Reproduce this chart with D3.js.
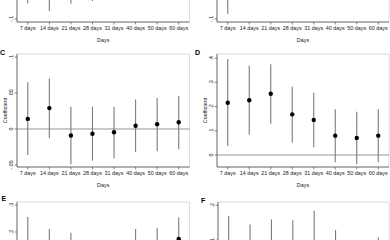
<!DOCTYPE html>
<html lang="en">
<head>
    <meta charset="UTF-8">
    <title>Coefficients by days</title>
    <script src="https://d3js.org/d3.v7.min.js"></script>
    <style>
        body{ margin: 0; background: white; }
        svg{ display: block; font-family: "Liberation Sans", Arial, sans-serif; }
        .ci{ stroke: #7a7a7a; stroke-width: 1.1px; }
        .zero{ stroke: #8a8a8a; stroke-width: 0.9px; }
        .frame{ fill: none; stroke: #d4d4d4; stroke-width: 0.8px; }
        .axisline{ stroke: #555; stroke-width: 0.8px; }
        .tick{ stroke: #555; stroke-width: 0.7px; }
        .lab{ font-size: 5.4px; fill: #222; }
        .letter{ font-size: 7px; font-weight: bold; fill: #000; }
    </style>
</head>
<body>
<svg id="canvas" width="390" height="240"></svg>
<script>
    // categories on the x axis
    let categories = ['7 days','14 days','21 days','28 days','31 days','40 days','50 days','60 days'];

    // panel A (only the lower part is visible)
    let estA = [-0.010, -0.020, -0.010, -0.015, -0.020, -0.010, -0.015, -0.010];
    let loA  = [-0.078, -0.089, -0.079, -0.075, -0.070, -0.066, -0.064, -0.060];
    let hiA  = [0.060, 0.050, 0.060, 0.045, 0.040, 0.045, 0.035, 0.040];
    let ticksA = [-0.1, -0.05, 0, 0.05];

    // panel B
    let estB = [0.12, 0.15, 0.17, 0.14, 0.13, 0.09, 0.08, 0.09];
    let loB  = [-0.079, -0.010, 0.010, -0.005, -0.015, -0.020, -0.018, -0.012];
    let hiB  = [0.32, 0.31, 0.33, 0.29, 0.27, 0.20, 0.18, 0.19];
    let ticksB = [-0.1, 0, 0.1, 0.2, 0.3];

    // panel C
    let estC = [0.014, 0.029, -0.009, -0.0065, -0.0046, 0.0046, 0.0065, 0.0093];
    let loC  = [-0.036, -0.013, -0.049, -0.044, -0.041, -0.032, -0.031, -0.028];
    let hiC  = [0.065, 0.070, 0.031, 0.031, 0.031, 0.041, 0.043, 0.046];
    let ticksC = [-0.05, 0, 0.05, 0.1];

    // panel D
    let estD = [0.216, 0.226, 0.253, 0.168, 0.145, 0.080, 0.070, 0.080];
    let loD  = [0.037, 0.084, 0.129, 0.052, 0.032, -0.030, -0.038, -0.030];
    let hiD  = [0.397, 0.369, 0.375, 0.282, 0.257, 0.189, 0.179, 0.189];
    let ticksD = [0, 0.1, 0.2, 0.3, 0.4];

    // panel E (only the upper part is visible)
    let estE = [0.09, 0.06, 0.12, 0.05, 0.06, 0.10, 0.11, 0.174];
    let loE  = [-0.07, -0.08, -0.03, -0.06, -0.05, -0.01, 0.00, 0.09];
    let hiE  = [0.256, 0.211, 0.197, 0.160, 0.165, 0.211, 0.216, 0.254];
    let ticksE = [-0.1, 0, 0.1, 0.2, 0.3];

    // panel F
    let estF = [0.03, 0.02, 0.03, 0.03, 0.05, 0.02, -0.01, 0.01];
    let loF  = [-0.09, -0.10, -0.09, -0.09, -0.08, -0.08, -0.10, -0.08];
    let hiF  = [0.169, 0.145, 0.159, 0.157, 0.184, 0.129, 0.090, 0.108];
    let ticksF = [-0.1, 0, 0.1, 0.2];
</script>
<script>
    const W = 390, H = 240;
    let svg = d3.select('#canvas');
    svg.append('rect').attr('width', W).attr('height', H).attr('fill', 'white');

    // tick label like stata: .1, -.05, 0
    function fmt(v){
        if (Math.abs(v) < 1e-9) return '0';
        let s = String(+v.toFixed(3));
        return s.replace('0.', '.');
    }
    // the figure is cropped: skip texts that fall outside the window
    function onScreen(yy){ return yy > -3 && yy < H + 3; }

    // layout of the panels (the picture is a crop of a bigger figure)
    let panels = [
        {letter:'A', est:estA, lo:loA, hi:hiA, ticks:ticksA, x0:17,  x1:189.5, top:-91, bottom:22,  dom:[-0.1042, 0.0528], lx:0,   ly:-88},
        {letter:'B', est:estB, lo:loB, hi:hiB, ticks:ticksB, x0:217, x1:389,   top:-91, bottom:22,  dom:[-0.1124, 0.3545], lx:195, ly:-88},
        {letter:'C', est:estC, lo:loC, hi:hiC, ticks:ticksC, x0:17,  x1:189.5, top:54,  bottom:167, dom:[-0.0528, 0.1042], lx:0,   ly:55},
        {letter:'D', est:estD, lo:loD, hi:hiD, ticks:ticksD, x0:217, x1:389,   top:54,  bottom:167, dom:[-0.0496, 0.4174], lx:195, ly:55},
        {letter:'E', est:estE, lo:loE, hi:hiE, ticks:ticksE, x0:17,  x1:189.5, top:202, bottom:315, dom:[-0.1074, 0.3111], lx:1.5, ly:200.5},
        {letter:'F', est:estF, lo:loF, hi:hiF, ticks:ticksF, x0:218, x1:389,   top:202, bottom:315, dom:[-0.1143, 0.2094], lx:201, ly:202.5}
    ];

    panels.forEach(function(p){
        let g = svg.append('g');
        let x = d3.scalePoint().domain(categories).range([p.x0, p.x1]).padding(0.5);
        let y = d3.scaleLinear().domain(p.dom).range([p.bottom, p.top]);

        // plot frame
        g.append('rect').attr('class', 'frame')
            .attr('x', p.x0).attr('y', p.top)
            .attr('width', p.x1 - p.x0).attr('height', p.bottom - p.top);

        // zero line
        g.append('line').attr('class', 'zero')
            .attr('x1', p.x0).attr('x2', p.x1)
            .attr('y1', y(0)).attr('y2', y(0));

        // axes lines
        g.append('line').attr('class', 'axisline')
            .attr('x1', p.x0).attr('x2', p.x0).attr('y1', p.top).attr('y2', p.bottom);
        g.append('line').attr('class', 'axisline')
            .attr('x1', p.x0).attr('x2', p.x1).attr('y1', p.bottom).attr('y2', p.bottom);

        // y ticks + rotated labels
        p.ticks.forEach(function(t){
            g.append('line').attr('class', 'tick')
                .attr('x1', p.x0 - 2.5).attr('x2', p.x0).attr('y1', y(t)).attr('y2', y(t));
            if (onScreen(y(t))){
                g.append('text').attr('class', 'lab')
                    .attr('transform', 'translate(' + (p.x0 - 4.5) + ',' + y(t) + ') rotate(-90)')
                    .attr('text-anchor', 'middle')
                    .text(fmt(t));
            }
        });

        // x ticks + labels
        categories.forEach(function(c){
            g.append('line').attr('class', 'tick')
                .attr('x1', x(c)).attr('x2', x(c)).attr('y1', p.bottom).attr('y2', p.bottom + 2.5);
            if (onScreen(p.bottom + 6)){
                g.append('text').attr('class', 'lab')
                    .attr('x', x(c)).attr('y', p.bottom + 8.3)
                    .attr('text-anchor', 'middle')
                    .text(c);
            }
        });

        // axis titles
        if (onScreen(p.bottom + 17)){
            g.append('text').attr('class', 'lab')
                .attr('x', (p.x0 + p.x1) / 2).attr('y', p.bottom + 19.5)
                .attr('text-anchor', 'middle').text('Days');
        }
        let mid = (p.top + p.bottom) / 2;
        if (mid - 15 > 0 && mid + 15 < H){
            g.append('text').attr('class', 'lab')
                .attr('transform', 'translate(' + (p.x0 - 10) + ',' + mid + ') rotate(-90)')
                .attr('text-anchor', 'middle').text('Coefficient');
        }

        // confidence intervals
        g.selectAll('line.ci').data(categories).enter().append('line')
            .attr('class', 'ci')
            .attr('x1', function(d){ return x(d); }).attr('x2', function(d){ return x(d); })
            .attr('y1', function(d, i){ return y(p.lo[i]); })
            .attr('y2', function(d, i){ return y(p.hi[i]); });

        // point estimates
        g.selectAll('circle').data(categories).enter().append('circle')
            .attr('cx', function(d){ return x(d); })
            .attr('cy', function(d, i){ return y(p.est[i]); })
            .attr('r', 2.2)
            .attr('fill', '#000');

        // panel letter
        if (onScreen(p.ly)){
            g.append('text').attr('class', 'letter')
                .attr('x', p.lx).attr('y', p.ly).text(p.letter);
        }
    });
</script>
</body>
</html>
